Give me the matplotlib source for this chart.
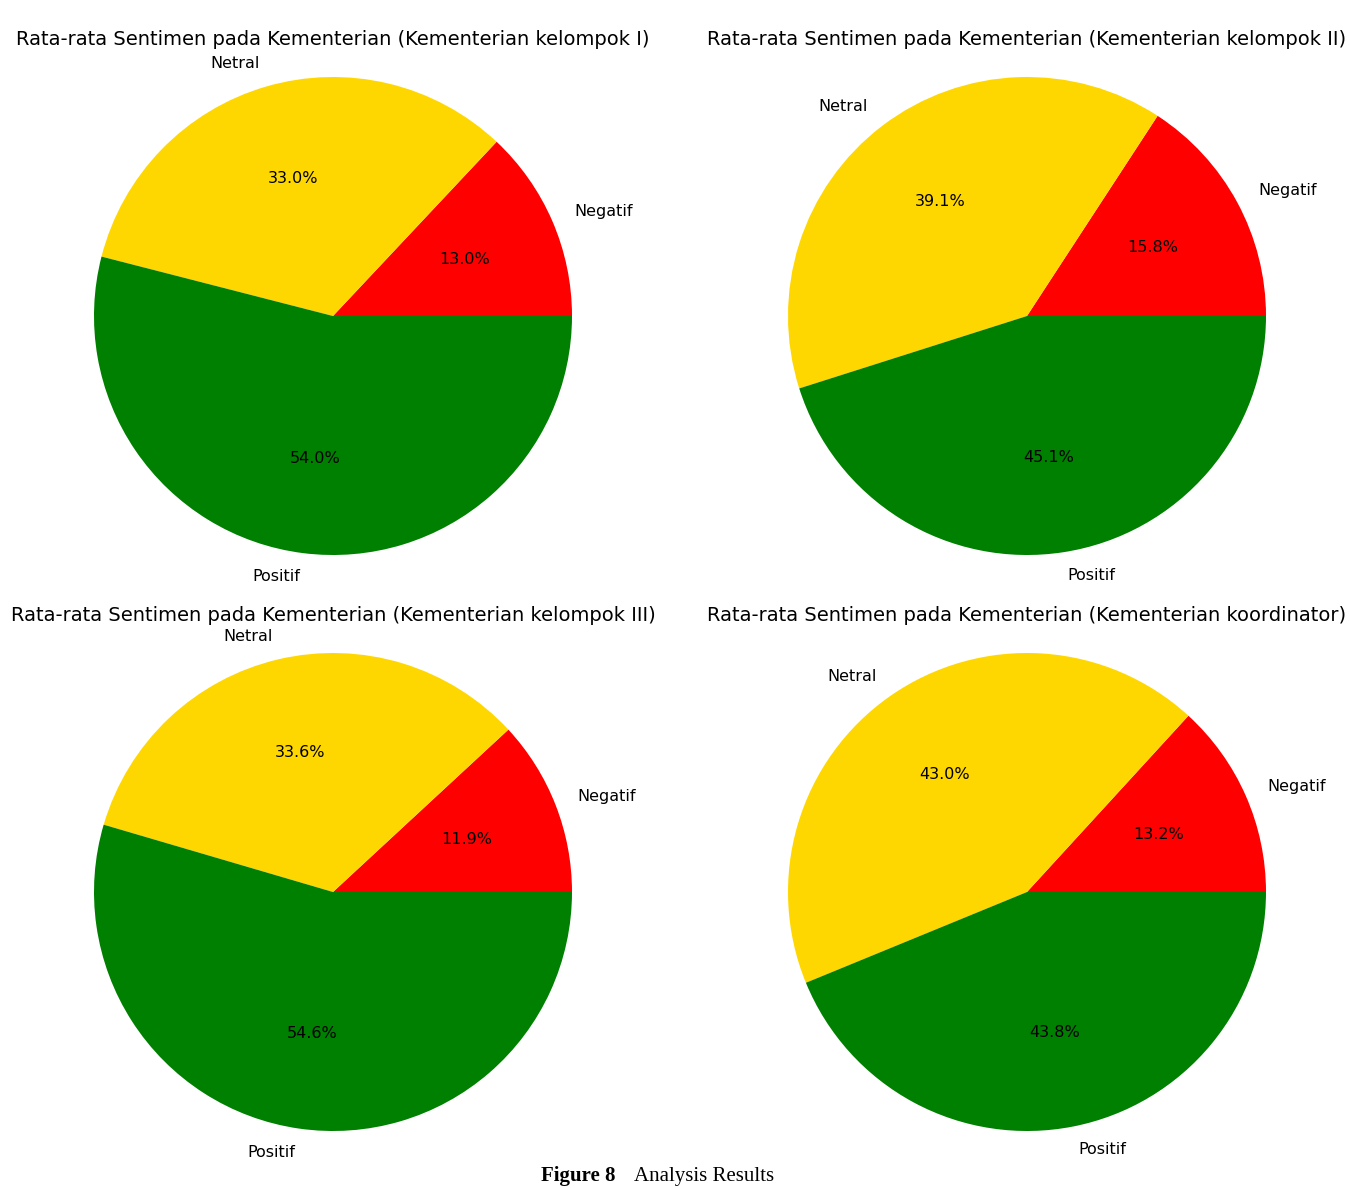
import matplotlib
matplotlib.use("Agg")
import matplotlib.pyplot as plt

# data
labels = ['Negatif', 'Netral', 'Positif']
colors = ['red', 'gold', 'green']
groups = ['Kementerian kelompok I', 'Kementerian kelompok II',
          'Kementerian kelompok III', 'Kementerian koordinator']
kel_1 = [13.0, 33.0, 54.0]
kel_2 = [15.8, 39.1, 45.1]
kel_3 = [11.9, 33.6, 54.6]
koordinator = [13.2, 43.0, 43.8]
values = [kel_1, kel_2, kel_3, koordinator]

W, H = 1350, 1188
fig = plt.figure(figsize=(W / 100, H / 100), dpi=100)

# pie centres in pixels, radius in px, axes half-height in px
centres = [(333, 316), (1027, 316), (333, 892), (1027, 892)]
R = 239
half = 264

for (cx, cy), vals, grp in zip(centres, values, groups):
    ax = fig.add_axes([(cx - half) / W, (H - cy - half) / H, 2 * half / W, 2 * half / H])
    total = sum(vals)
    ax.pie(vals, labels=labels, colors=colors, startangle=0,
           autopct=lambda p, t=total: '%.1f%%' % (p * t / 100),
           textprops={'fontsize': 11.5})
    lim = half / R
    ax.set_xlim(-lim, lim)
    ax.set_ylim(-lim, lim)
    ax.set_aspect('equal')
    ax.set_title('Rata-rata Sentimen pada Kementerian (%s)' % grp, fontsize=14, pad=5)

# caption
fig.text(541 / W, 2 / H, 'Figure 8', fontsize=15, fontweight='bold',
         family='Liberation Serif', va='bottom', ha='left')
fig.text(634 / W, 2 / H, 'Analysis Results', fontsize=15,
         family='Liberation Serif', va='bottom', ha='left')

fig.savefig('out.png', dpi=100)
